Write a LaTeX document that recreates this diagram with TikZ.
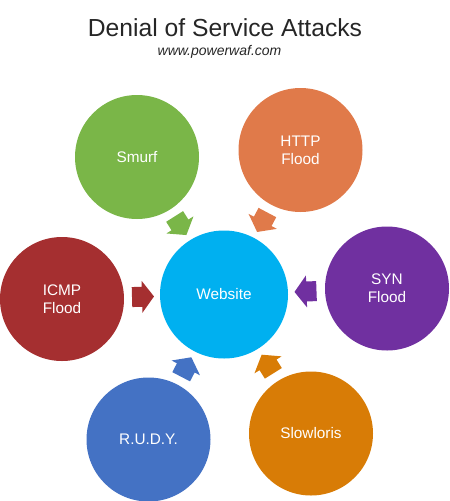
\documentclass[tikz,border=0pt]{standalone}
\usepackage{fontspec}
\setmainfont{Liberation Sans}
\usetikzlibrary{calc}
\definecolor{cweb}{RGB}{0,176,240}
\definecolor{csmurf}{RGB}{122,182,72}
\definecolor{chttp}{RGB}{224,122,74}
\definecolor{csyn}{RGB}{112,48,160}
\definecolor{cicmp}{RGB}{165,47,48}
\definecolor{crudy}{RGB}{68,114,196}
\definecolor{cslow}{RGB}{216,124,6}
\tikzset{
  sat/.style={circle, fill=#1, minimum size=93pt, inner sep=0pt, text=white,
    align=center, font=\fontsize{11.5pt}{13.5pt}\selectfont},
  hub/.style={sat=cweb, minimum size=96pt},
  blockarr/.pic={\fill[#1] (-11,-10) -- (-1,-10) -- (-1,-16) -- (11,0) -- (-1,16) -- (-1,10) -- (-11,10) -- cycle;}
}
\newcommand{\attackarrow}[3]{%
  \path let \p1=(#1.center), \p2=(#2.center), \n1={atan2(\y2-\y1,\x2-\x1)} in
    ($(\p1)!0.5!(\p2)$) pic[rotate=\n1] {blockarr=#3};}
\begin{document}
\begin{tikzpicture}[x=0.75pt,y=-0.75pt]
\useasboundingbox (0,0) rectangle (450,501);
\node[anchor=base, font=\fontsize{18.5pt}{22pt}\selectfont, text=black!85] (title) at (225,36) {Denial of Service Attacks};
\node[anchor=base, font=\fontsize{10.5pt}{12pt}\selectfont\itshape, text=black!85] (sub) at (219.5,55) {www.powerwaf.com};
\node[hub] (web) at (224,294.5) {Website};
\node[sat=csmurf] (smurf) at (137,157) {Smurf};
\node[sat=chttp] (http) at (300.5,150) {HTTP\\Flood};
\node[sat=csyn] (syn) at (387,288.5) {SYN\\Flood};
\node[sat=cicmp] (icmp) at (62,299) {ICMP\\Flood};
\node[sat=crudy] (rudy) at (148.5,439.5) {R.U.D.Y.};
\node[sat=cslow] (slow) at (311,433.5) {Slowloris};
\attackarrow{smurf}{web}{csmurf}
\attackarrow{http}{web}{chttp}
\attackarrow{syn}{web}{csyn}
\attackarrow{icmp}{web}{cicmp}
\attackarrow{rudy}{web}{crudy}
\attackarrow{slow}{web}{cslow}
\end{tikzpicture}
\end{document}
